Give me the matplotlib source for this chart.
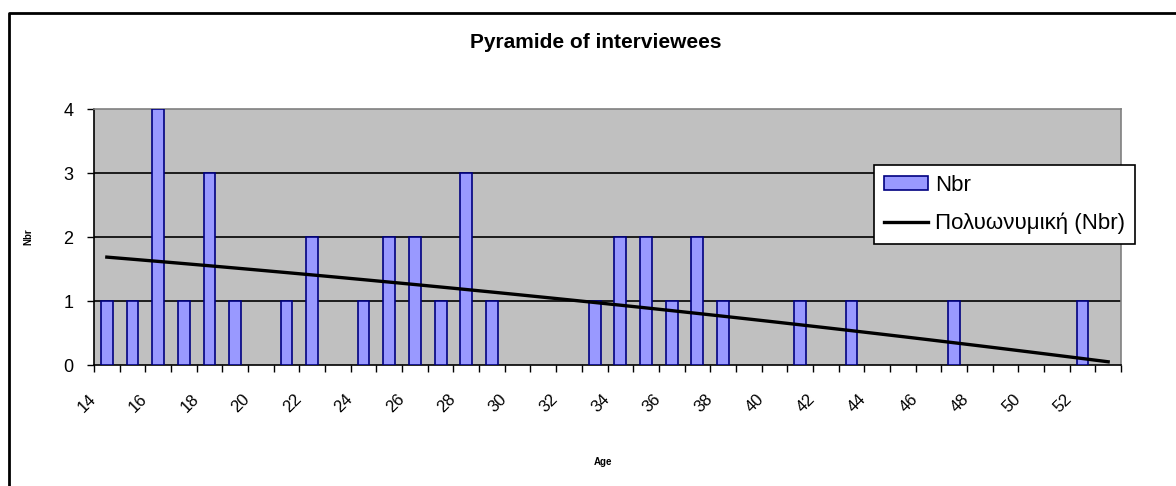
import numpy as np
import matplotlib
matplotlib.use("Agg")
from matplotlib import pyplot as plt
from matplotlib.lines import Line2D
from matplotlib.transforms import ScaledTranslation

plt.rcParams['font.family'] = ['Liberation Sans', 'DejaVu Sans']

ages = list(range(14, 54))
counts = [1, 1, 4, 1, 3, 1, 0, 1, 2, 0,
          1, 2, 2, 1, 3, 1, 0, 0, 0, 1,
          2, 2, 1, 2, 1, 0, 0, 1, 0, 1,
          0, 0, 0, 1, 0, 0, 0, 0, 1, 0]
tick_labels = [str(a) for a in ages[::2]]

W, H = 1176, 486
fig = plt.figure(figsize=(W / 100, H / 100), dpi=100)
ax = fig.add_axes([94 / W, 1 - 365 / H, (1121 - 94) / W, (365 - 109) / H])
ax.set_facecolor('#C0C0C0')

idx = np.arange(len(ages))
bars = ax.bar(idx, counts, width=0.46, color='#9999FF', edgecolor='#000080',
              linewidth=1.2, zorder=3, label='Nbr')
# empty categories show nothing in the original
for b, c in zip(bars, counts):
    if c == 0:
        b.set_visible(False)

# Excel polynomial trendline (order 2) on category positions
coef = np.polyfit(idx + 1, counts, 2)
trend = np.polyval(coef, idx + 1)
line, = ax.plot(idx, trend, color='black', lw=2.4, zorder=4,
                label='Πολυωνυμική (Nbr)')

ax.set_xlim(-0.5, len(ages) - 0.5)
ax.set_ylim(0, 4)
ax.set_yticks([0, 1, 2, 3, 4])
ax.set_yticklabels(['0', '1', '2', '3', '4'], fontsize=13)
for y in [1, 2, 3]:
    ax.axhline(y, color='black', lw=1.2, zorder=1)

ax.set_xticks(np.arange(-0.5, len(ages), 1.0))
ax.set_xticklabels([])
ax.set_xticks(idx[::2], minor=True)
ax.set_xticklabels(tick_labels, minor=True, rotation=45, ha='right', va='top',
                   fontsize=12)
ax.tick_params(axis='x', which='major', direction='out', length=5, width=1)
ax.tick_params(axis='x', which='minor', length=0, pad=19)
ax.tick_params(axis='y', direction='out', length=5, width=1, pad=10)
for lbl in ax.get_xticklabels(minor=True):
    lbl.set_transform(lbl.get_transform() + ScaledTranslation(-0.08, 0, fig.dpi_scale_trans))

for side in ['left', 'bottom']:
    ax.spines[side].set_color('black')
    ax.spines[side].set_linewidth(1.2)
for side in ['top', 'right']:
    ax.spines[side].set_color('#808080')
    ax.spines[side].set_linewidth(1.2)

fig.text(596 / W, 1 - 42 / H, 'Pyramide of interviewees', ha='center', va='center',
         fontsize=15, fontweight='bold')
fig.text(28 / W, 1 - 237 / H, 'Nbr', ha='center', va='center', rotation=90,
         fontsize=7, fontweight='bold')
fig.text(603 / W, 1 - 462 / H, 'Age', ha='center', va='center',
         fontsize=7, fontweight='bold')

leg = fig.legend(handles=[bars, line], loc='upper left',
                 bbox_to_anchor=(874 / W, 1 - 165 / H), fontsize=16,
                 frameon=True, fancybox=False, framealpha=1, edgecolor='black',
                 borderpad=0.45, handlelength=2.0, handleheight=0.6,
                 handletextpad=0.3, labelspacing=0.75, borderaxespad=0)
leg.get_frame().set_linewidth(1.2)

# outer chart frame (top and left edges visible)
fig.add_artist(Line2D([9 / W, 9 / W, 1.0], [0.0, 1 - 13 / H, 1 - 13 / H],
                      transform=fig.transFigure, color='black', lw=2))

fig.savefig('out.png', dpi=100)
